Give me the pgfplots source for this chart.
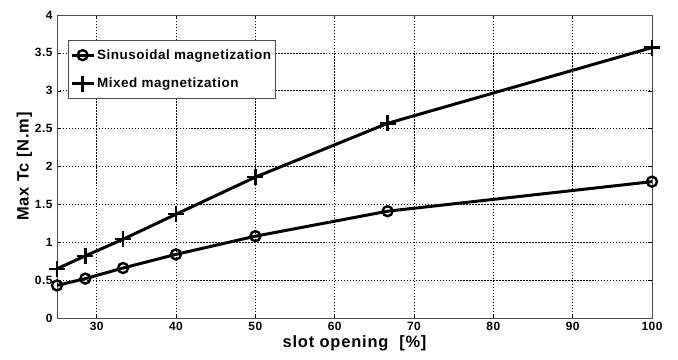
\documentclass[border=0pt]{standalone}
\usepackage{pgfplots}
\pgfplotsset{compat=1.18}
\usepackage{fontspec}
\setmainfont{Liberation Sans}
\begin{document}
\begin{tikzpicture}[x=1bp,y=1bp]
\path[use as bounding box] (-57,-41) rectangle (621,318);
\begin{axis}[
  at={(0,0)}, anchor=south west,
  scale only axis, width=595bp, height=303bp,
  xmin=25, xmax=100, ymin=0, ymax=4,
  xtick={30,40,50,60,70,80,90,100},
  ytick={0,0.5,1,1.5,2,2.5,3,3.5,4},
  yticklabels={0,0.5,1,1.5,2,2.5,3,3.5,4},
  xticklabels={30,40,50,60,70,80,90,100},
  tick align=inside, major tick length=4bp,
  tick style={black, thin},
  grid=major,
  major grid style={black, dash pattern=on 1.5pt off 1.5pt, line width=0.6pt},
  axis line style={black!70, line width=0.8pt},
  ticklabel style={font=\fontsize{12}{13}\selectfont\bfseries\addfontfeature{LetterSpace=4}},
  xticklabel style={yshift=-1bp},
  yticklabel style={xshift=-1bp},
  xlabel={slot opening~~[\%]},
  ylabel={Max Tc [N.m]},
  label style={font=\fontsize{16.5}{18}\selectfont\bfseries\addfontfeature{LetterSpace=5}},
  xlabel style={yshift=2bp},
  ylabel style={yshift=-4bp},
  legend style={at={(0.018,0.917)}, anchor=north west, draw=black!70, line width=0.8pt,
    font=\fontsize{13.5}{15}\selectfont\bfseries\addfontfeature{LetterSpace=4}, row sep=13bp, inner xsep=2bp, inner ysep=7bp},
  legend cell align=left,
  legend image code/.code={\draw[#1] (0bp,0bp) -- (22bp,0bp); \draw[#1] plot coordinates {(11bp,0bp)};},
]
\addplot[black, line width=3pt, mark=o, mark size=5bp, mark options={line width=2.4pt}]
  coordinates {(25,0.43) (28.57,0.52) (33.33,0.66) (40,0.84) (50,1.08) (66.67,1.41) (100,1.80)};
\addlegendentry{Sinusoidal magnetization}
\addplot[black, line width=3pt, mark=+, mark size=8bp, mark options={line width=2.4pt}]
  coordinates {(25,0.65) (28.57,0.82) (33.33,1.04) (40,1.37) (50,1.86) (66.67,2.57) (100,3.57)};
\addlegendentry{Mixed magnetization}
\end{axis}
\end{tikzpicture}
\end{document}
